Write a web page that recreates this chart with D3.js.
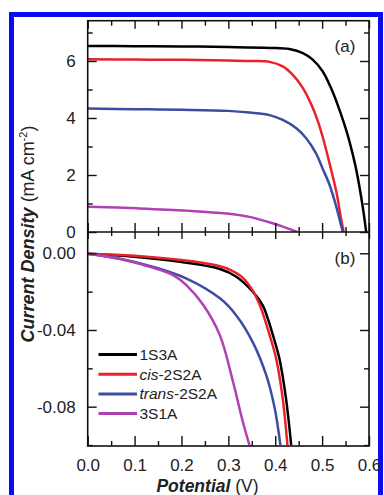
<!DOCTYPE html>
<html>
<head>
<meta charset="utf-8">
<script src="https://cdn.jsdelivr.net/npm/d3@7/dist/d3.min.js"></script>
<style>
  html, body { margin: 0; padding: 0; background: #fff; }
  svg text { font-family: Arial, "Liberation Sans", sans-serif; fill: #222; }
</style>
</head>
<body>
<div id="chart"></div>
<script>
// legend / series names (prefix before "-" is italic)
const seriesNames = ["1S3A", "cis-2S2A", "trans-2S2A", "3S1A"];

// panel (a): J-V under light, potential (V) and current density (mA cm-2)
const lightV_1S3A = [0, 0.1, 0.2, 0.3, 0.388, 0.43, 0.459, 0.48, 0.501, 0.519, 0.533, 0.547, 0.558, 0.572, 0.586, 0.594];
const lightJ_1S3A = [6.53, 6.52, 6.51, 6.49, 6.46, 6.42, 6.28, 6.05, 5.64, 5.05, 4.47, 3.8, 3.2, 2.25, 0.95, 0];
const lightV_cis = [0, 0.1, 0.2, 0.3, 0.35, 0.388, 0.416, 0.437, 0.459, 0.477, 0.491, 0.501, 0.516, 0.531, 0.54, 0.546];
const lightJ_cis = [6.06, 6.05, 6.04, 6.02, 6.0, 5.97, 5.81, 5.52, 5.05, 4.47, 3.88, 3.35, 2.4, 1.36, 0.5, 0];
const lightV_trans = [0, 0.1, 0.2, 0.3, 0.345, 0.388, 0.416, 0.445, 0.466, 0.487, 0.501, 0.516, 0.53, 0.544];
const lightJ_trans = [4.33, 4.31, 4.29, 4.25, 4.19, 4.1, 3.93, 3.64, 3.29, 2.76, 2.23, 1.65, 0.9, 0];
const lightV_3S1A = [0, 0.105, 0.211, 0.296, 0.345, 0.396, 0.416, 0.447];
const lightJ_3S1A = [0.89, 0.83, 0.75, 0.65, 0.53, 0.30, 0.19, 0];

// panel (b): dark J-V
const darkV_1S3A = [0, 0.1, 0.2, 0.282, 0.317, 0.352, 0.373, 0.384, 0.395, 0.409, 0.423, 0.434];
const darkJ_1S3A = [-0.0003, -0.0018, -0.0046, -0.0082, -0.0122, -0.02, -0.027, -0.0339, -0.0426, -0.055, -0.0758, -0.1];
const darkV_cis = [0, 0.1, 0.2, 0.25, 0.282, 0.303, 0.331, 0.352, 0.367, 0.377, 0.388, 0.402, 0.416, 0.426];
const darkJ_cis = [-0.0002, -0.0013, -0.0035, -0.0052, -0.0068, -0.0085, -0.0128, -0.0195, -0.027, -0.0339, -0.0426, -0.055, -0.0758, -0.1];
const darkV_trans = [0, 0.069, 0.14, 0.211, 0.282, 0.317, 0.352, 0.381, 0.399, 0.411];
const darkJ_trans = [-0.0002, -0.0028, -0.0071, -0.0132, -0.0235, -0.0324, -0.0463, -0.0637, -0.081, -0.1];
const darkV_3S1A = [0, 0.069, 0.14, 0.183, 0.211, 0.247, 0.282, 0.31, 0.331, 0.345];
const darkJ_3S1A = [-0.0002, -0.003, -0.0076, -0.0115, -0.0167, -0.0271, -0.0428, -0.067, -0.088, -0.1];

// tick values / labels
const xMajor = [0, 0.1, 0.2, 0.3, 0.4, 0.5, 0.6];
const xMinor = [0.05, 0.15, 0.25, 0.35, 0.45, 0.55];
const xLabels = ["0.0", "0.1", "0.2", "0.3", "0.4", "0.5", "0.6"];
const yaMajor = [0, 2, 4, 6];
const yaMinor = [1, 3, 5, 7];
const yaLabels = ["0", "2", "4", "6"];
const ybMajor = [0, -0.04, -0.08];
const ybMinor = [-0.02, -0.06, -0.1];
const ybLabels = ["0.00", "-0.04", "-0.08"];

const colors = ["#000000", "#e8212a", "#3d4ca3", "#b23fb3"];

const W = 384, H = 495;
const pLeft = 87.7, pRight = 369, pTop = 20.7, pMid = 232, pBottom = 446;

const svg = d3.select("#chart").append("svg")
  .attr("width", W).attr("height", H);

svg.append("rect").attr("width", W).attr("height", H).attr("fill", "#fff");

// blue highlight frame
svg.append("rect")
  .attr("x", 11.5).attr("y", 14.5)
  .attr("width", 369).attr("height", 520)
  .attr("fill", "none").attr("stroke", "#0b0bf2").attr("stroke-width", 5);

const x = d3.scaleLinear().domain([0, 0.6]).range([pLeft, pRight]);
const ya = d3.scaleLinear().domain([0, 7.414]).range([pMid, pTop]);
const yb = d3.scaleLinear().domain([-0.1005, 0.0111]).range([pBottom, pMid]);

const defs = svg.append("defs");
defs.append("clipPath").attr("id", "clipA").append("rect")
  .attr("x", pLeft).attr("y", pTop).attr("width", pRight - pLeft).attr("height", pMid - pTop);
defs.append("clipPath").attr("id", "clipB").append("rect")
  .attr("x", pLeft).attr("y", pMid).attr("width", pRight - pLeft).attr("height", pBottom - pMid);

function drawCurves(clip, yScale, vs, js) {
  const g = svg.append("g").attr("clip-path", `url(#${clip})`);
  const line = d3.line()
    .x(d => x(d[0]))
    .y(d => yScale(d[1]))
    .curve(d3.curveCatmullRom.alpha(0.5));
  vs.forEach((v, i) => {
    const pts = v.map((vv, k) => [vv, js[i][k]]);
    g.append("path")
      .datum(pts)
      .attr("d", line)
      .attr("fill", "none")
      .attr("stroke", colors[i])
      .attr("stroke-width", 2.5)
      .attr("stroke-linejoin", "round");
  });
}

drawCurves("clipA", ya,
  [lightV_1S3A, lightV_cis, lightV_trans, lightV_3S1A],
  [lightJ_1S3A, lightJ_cis, lightJ_trans, lightJ_3S1A]);
drawCurves("clipB", yb,
  [darkV_1S3A, darkV_cis, darkV_trans, darkV_3S1A],
  [darkJ_1S3A, darkJ_cis, darkJ_trans, darkJ_3S1A]);

// axes: ticks point inward
function addAxis(axis, transform, values, size, labels, pad) {
  const g = svg.append("g").attr("transform", transform)
    .call(axis.tickValues(values).tickSize(size).tickPadding(pad || 3)
      .tickFormat((d, i) => labels ? labels[i] : ""));
  g.select(".domain").remove();
  g.selectAll(".tick line").attr("stroke", "#111").attr("stroke-width", 1.4);
  g.selectAll(".tick text").attr("font-size", 17).attr("fill", "#222");
  return g;
}

// panel (a)
addAxis(d3.axisLeft(ya), `translate(${pLeft},0)`, yaMajor, -9, yaLabels, 12);
addAxis(d3.axisLeft(ya), `translate(${pLeft},0)`, yaMinor, -5);
addAxis(d3.axisRight(ya), `translate(${pRight},0)`, yaMajor, -9);
addAxis(d3.axisRight(ya), `translate(${pRight},0)`, yaMinor, -5);
addAxis(d3.axisTop(x), `translate(0,${pTop})`, xMajor, -8);
addAxis(d3.axisTop(x), `translate(0,${pTop})`, xMinor, -5);
addAxis(d3.axisBottom(x), `translate(0,${pMid})`, xMajor, -9);
addAxis(d3.axisBottom(x), `translate(0,${pMid})`, xMinor, -5);

// panel (b)
addAxis(d3.axisLeft(yb), `translate(${pLeft},0)`, ybMajor, -9, ybLabels, 12);
addAxis(d3.axisLeft(yb), `translate(${pLeft},0)`, ybMinor, -5);
addAxis(d3.axisRight(yb), `translate(${pRight},0)`, ybMajor, -9);
addAxis(d3.axisRight(yb), `translate(${pRight},0)`, ybMinor, -5);
addAxis(d3.axisTop(x), `translate(0,${pMid})`, xMajor, -7);
addAxis(d3.axisTop(x), `translate(0,${pMid})`, xMinor, -4);
addAxis(d3.axisBottom(x), `translate(0,${pBottom})`, xMajor, -10, xLabels, 13);
addAxis(d3.axisBottom(x), `translate(0,${pBottom})`, xMinor, -5);

// frames
svg.append("rect")
  .attr("x", pLeft).attr("y", pTop)
  .attr("width", pRight - pLeft).attr("height", pBottom - pTop)
  .attr("fill", "none").attr("stroke", "#111").attr("stroke-width", 1.6);
svg.append("line")
  .attr("x1", pLeft).attr("x2", pRight).attr("y1", pMid).attr("y2", pMid)
  .attr("stroke", "#111").attr("stroke-width", 1.6);

// panel tags
svg.append("text").attr("x", 345).attr("y", 52).attr("text-anchor", "middle")
  .attr("font-size", 17).text("(a)");
svg.append("text").attr("x", 345).attr("y", 264).attr("text-anchor", "middle")
  .attr("font-size", 17).text("(b)");

// legend
const legend = svg.append("g");
seriesNames.forEach((name, i) => {
  const ly = 354.5 + i * 19.7;
  legend.append("line")
    .attr("x1", 98.5).attr("x2", 137).attr("y1", ly).attr("y2", ly)
    .attr("stroke", colors[i]).attr("stroke-width", 3);
  const t = legend.append("text").attr("x", 139.5).attr("y", ly + 5.5).attr("font-size", 15.5);
  const dash = name.indexOf("-");
  if (dash > 0 && /[a-z]/.test(name[0])) {
    t.append("tspan").attr("font-style", "italic").text(name.slice(0, dash));
    t.append("tspan").text(name.slice(dash));
  } else {
    t.text(name);
  }
});

// axis titles
const xt = svg.append("text").attr("x", 207.5).attr("y", 492)
  .attr("text-anchor", "middle").attr("font-size", 17.5);
xt.append("tspan").attr("font-weight", "bold").attr("font-style", "italic").text("Potential");
xt.append("tspan").text(" (V)");

const yt = svg.append("text")
  .attr("transform", "translate(34,234) rotate(-90)")
  .attr("text-anchor", "middle").attr("font-size", 18);
yt.append("tspan").attr("font-weight", "bold").attr("font-style", "italic").text("Current Density");
yt.append("tspan").text(" (mA cm");
yt.append("tspan").attr("font-size", 11).attr("dy", -7).text("-2");
yt.append("tspan").attr("dy", 7).text(")");
</script>
</body>
</html>
